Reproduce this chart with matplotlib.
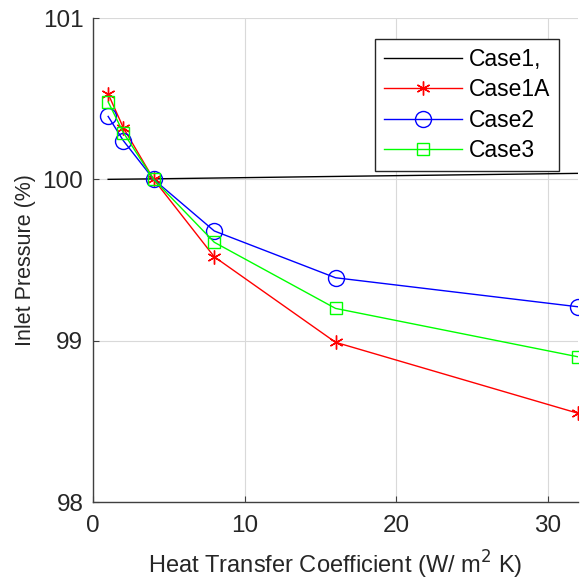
import matplotlib
matplotlib.use("Agg")
import matplotlib.pyplot as plt

plt.rcParams['font.family'] = ['Liberation Sans', 'DejaVu Sans']

h = [1, 2, 4, 8, 16, 32]
case1 = [100.0, 100.001, 100.003, 100.008, 100.018, 100.037]
case1a = [100.53, 100.32, 100.0, 99.52, 98.99, 98.55]
case2 = [100.39, 100.24, 100.0, 99.68, 99.39, 99.21]
case3 = [100.48, 100.29, 100.0, 99.61, 99.20, 98.90]

fig = plt.figure(figsize=(5.86, 5.80), dpi=100)
ax = fig.add_axes([93/586, 78/580, 485/586, 484/580])

ax.plot(h, case1, color='black', lw=1.0, label='Case1,')
ax.plot(h, case1a, color='#ff0000', lw=1.0, marker=(6, 2, 0), ms=10, mew=1.0, label='Case1A')
ax.plot(h, case2, color='#0000ff', lw=1.0, marker='o', ms=11.5, mfc='none', mew=1.0, label='Case2')
ax.plot(h, case3, color='#00ff00', lw=1.0, marker='s', ms=9, mfc='none', mew=1.0, label='Case3')

ax.set_xlim(0, 32)
ax.set_ylim(98, 101)
ax.set_xticks([0, 10, 20, 30])
ax.set_yticks([98, 99, 100, 101])
ax.grid(True, color='#d9d9d9', lw=0.8)
ax.set_axisbelow(True)
for s in ['top', 'right']:
    ax.spines[s].set_visible(False)
for s in ['left', 'bottom']:
    ax.spines[s].set_color('#404040')
    ax.spines[s].set_linewidth(1.0)
ax.tick_params(direction='in', length=4, colors='#404040', labelcolor='#262626', labelsize=17.5)
ax.tick_params(axis='x', pad=9)
ax.tick_params(axis='y', pad=7)

ax.set_xlabel('Heat Transfer Coefficient (W/ m$^2$ K)', fontsize=17, color='#262626', labelpad=9)
ax.set_ylabel('Inlet Pressure (%)', fontsize=15.5, color='#262626', labelpad=5)

leg = ax.legend(loc='upper right', bbox_to_anchor=(0.961, 0.957), bbox_transform=ax.transAxes,
                fontsize=16.5, frameon=True, fancybox=False, handlelength=3.4, borderpad=0.4,
                labelspacing=0.32, handletextpad=0.3, borderaxespad=0.0)
leg.get_frame().set_edgecolor('#262626')
leg.get_frame().set_linewidth(1.0)
leg.get_frame().set_alpha(1)

fig.savefig('out.png', dpi=100)
